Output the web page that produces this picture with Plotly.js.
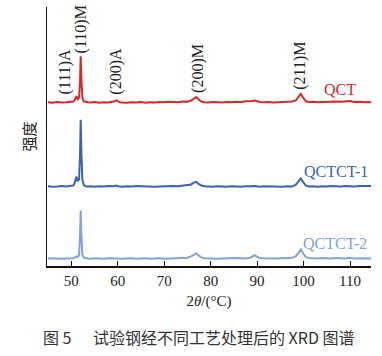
<!DOCTYPE html>
<html>
<head>
<meta charset="utf-8">
<script src="https://cdn.plot.ly/plotly-3.0.1.min.js"></script>
<style>html,body{margin:0;padding:0;background:#fff;}#chart{width:382px;height:356px;}</style>
</head>
<body>
<div id="chart"></div>
<script>
// 2θ sample positions (degrees)
const twoTheta = [
  45, 46, 47, 48, 49, 50, 50.5, 50.8, 51.1, 51.4,
  51.7, 51.9, 52.05, 52.2, 52.4, 52.7, 53.1, 53.6, 54.3, 55,
  56, 57, 58, 59, 59.4, 59.7, 60.0, 60.4, 61, 62,
  63, 64, 65, 66, 67, 68, 69, 70, 71, 72,
  73, 74, 75, 75.8, 76.4, 76.9, 77.4, 78.0, 78.7, 79.5,
  80.5, 81.5, 82.5, 83.5, 84.5, 85.5, 86.5, 87.5, 88.5, 89.0,
  89.5, 90.0, 90.6, 91.4, 92.5, 93.5, 94.5, 95.5, 96.5, 97.5,
  98.3, 98.9, 99.4, 99.9, 100.5, 101.2, 102, 103, 104, 105,
  106, 107, 108, 109, 109.6, 110.0, 110.4, 111, 112, 113,
  114, 114.5
];
// relative intensities
const qct = [
  0.2, 0.0, 0.3, 0.1, 0.2, 0.3, 0.5, 1.2, 2.6, 1.4,
  2.0, 8.0, 18.0, 9.0, 2.0, 0.6, 0.3, 0.2, 0.1, 0.3,
  0.0, 0.2, 0.1, 0.3, 0.6, 1.0, 0.5, 0.2, 0.1, 0.0,
  0.2, 0.1, 0.3, 0.0, 0.2, 0.1, 0.3, 0.2, 0.4, 0.3,
  0.2, 0.5, 0.4, 0.9, 1.7, 2.2, 1.3, 0.5, 0.2, 0.1,
  0.3, 0.2, 0.1, 0.3, 0.2, 0.4, 0.3, 0.6, 0.5, 0.7,
  0.9, 0.5, 0.3, 0.2, 0.3, 0.1, 0.2, 0.4, 0.3, 0.5,
  0.9, 2.2, 3.5, 2.0, 0.6, 0.3, 0.4, 0.2, 0.3, 0.4,
  0.3, 0.5, 0.4, 0.6, 0.8, 0.7, 0.5, 0.3, 0.4, 0.2,
  0.3, 0.2
];
const qctct1 = [
  0.3, 0.1, 0.2, 0.4, 0.2, 0.3, 0.6, 1.8, 4.0, 2.2,
  3.0, 12.0, 26.0, 13.0, 3.0, 0.8, 0.3, 0.2, 0.3, 0.1,
  0.3, 0.2, 0.4, 0.3, 0.4, 0.6, 0.3, 0.2, 0.1, 0.3,
  0.2, 0.4, 0.3, 0.2, 0.3, 0.1, 0.2, 0.3, 0.2, 0.4,
  0.3, 0.5, 0.6, 1.0, 1.7, 2.0, 1.2, 0.6, 0.3, 0.2,
  0.1, 0.3, 0.2, 0.1, 0.3, 0.2, 0.1, 0.3, 0.2, 0.3,
  0.4, 0.2, 0.1, 0.3, 0.2, 0.1, 0.2, 0.1, 0.3, 0.2,
  0.8, 2.0, 3.3, 1.9, 0.5, 0.2, 0.3, 0.1, 0.3, 0.2,
  0.4, 0.3, 0.2, 0.4, 0.3, 0.5, 0.3, 0.2, 0.4, 0.3,
  0.2, 0.4
];
const qctct2 = [
  0.2, 0.3, 0.1, 0.2, 0.3, 0.2, 0.3, 0.6, 1.0, 0.8,
  1.5, 8.5, 18.7, 9.0, 1.8, 0.5, 0.3, 0.2, 0.1, 0.3,
  0.2, 0.1, 0.3, 0.2, 0.3, 0.4, 0.2, 0.3, 0.1, 0.2,
  0.3, 0.1, 0.2, 0.3, 0.1, 0.2, 0.3, 0.1, 0.2, 0.3,
  0.2, 0.4, 0.5, 1.0, 1.8, 2.2, 1.4, 0.6, 0.3, 0.2,
  0.3, 0.1, 0.2, 0.3, 0.2, 0.4, 0.3, 0.2, 0.5, 0.9,
  1.5, 0.8, 0.4, 0.3, 0.2, 0.3, 0.2, 0.4, 0.3, 0.5,
  1.0, 2.4, 3.7, 2.2, 0.7, 0.4, 0.3, 0.2, 0.4, 0.3,
  0.2, 0.4, 0.3, 0.2, 0.5, 0.4, 0.3, 0.2, 0.3, 0.2,
  0.3, 0.2
];
const seriesNames = ["QCT", "QCTCT-1", "QCTCT-2"];
const seriesData = [qct, qctct1, qctct2];
const stackOffsets = [63, 30.5, 2.7];
const seriesColors = ["#d8282c", "#3b63ae", "#80a4d8"];
const labelPos = [[107.8, 68.0], [106.9, 36.4], [106.7, 8.5]];

// peak labels
const peakLabels = ["(111)A", "(110)M", "(200)A", "(200)M", "(211)M"];
const peakX = [48.7, 52.0, 59.7, 77.15, 99.2];
const peakLabelBase = [65.3, 81.5, 65.3, 66.0, 67.2];

const xTicks = [50, 60, 70, 80, 90, 100, 110];

const serif = "Liberation Serif, Times New Roman, serif";

const traces = seriesData.map((vals, i) => ({
  type: "scatter",
  mode: "lines",
  x: twoTheta,
  y: vals.map(v => v + stackOffsets[i]),
  line: {color: seriesColors[i], width: 2},
  name: seriesNames[i],
  showlegend: false,
  hoverinfo: "skip"
}));

const annotations = [];
peakLabels.forEach((t, i) => {
  annotations.push({
    x: peakX[i], y: peakLabelBase[i], xref: "x", yref: "y",
    text: t, showarrow: false, textangle: -90,
    xanchor: "center", yanchor: "bottom",
    font: {family: serif, size: 16, color: "#222"}
  });
});
seriesNames.forEach((n, i) => {
  annotations.push({
    x: labelPos[i][0], y: labelPos[i][1], xref: "x", yref: "y",
    text: n, showarrow: false, xanchor: "center", yanchor: "middle",
    font: {family: serif, size: 16, color: seriesColors[i]}
  });
});
annotations.push({
  x: 0.467, y: -0.274, xref: "paper", yref: "paper",
  text: "图 5&nbsp;&nbsp;&nbsp;&nbsp;&nbsp;&nbsp;试验钢经不同工艺处理后的 XRD 图谱",
  showarrow: false, xanchor: "center", yanchor: "middle",
  font: {family: "Noto Sans CJK SC, Liberation Serif", size: 16, color: "#333"}
});

const layout = {
  width: 382, height: 356,
  margin: {l: 47, r: 11, t: 7, b: 90},
  paper_bgcolor: "#fff", plot_bgcolor: "#fff",
  xaxis: {
    range: [44.8, 114.5],
    tickvals: xTicks, ticktext: xTicks.map(String),
    ticks: "inside", ticklen: 5, tickwidth: 1, tickcolor: "#111",
    showline: true, linecolor: "#111", linewidth: 1.5,
    showgrid: false, zeroline: false,
    tickfont: {family: serif, size: 15, color: "#222"},
    title: {text: "2<i>θ</i>/(°C)", font: {family: serif, size: 15, color: "#222"}, standoff: 8}
  },
  yaxis: {
    range: [0, 100],
    showticklabels: false, ticks: "",
    showline: true, linecolor: "#111", linewidth: 1.5,
    showgrid: false, zeroline: false,
    title: {text: "强度", font: {family: "Noto Sans CJK SC", size: 15, color: "#222"}, standoff: 6}
  },
  annotations: annotations
};

Plotly.newPlot("chart", traces, layout, {displayModeBar: false, staticPlot: true});
</script>
</body>
</html>
